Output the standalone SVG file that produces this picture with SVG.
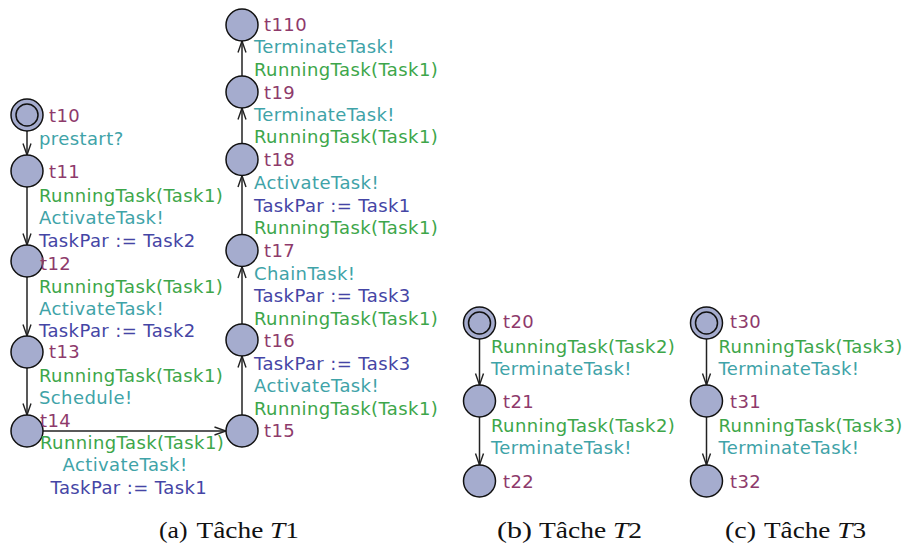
<svg xmlns="http://www.w3.org/2000/svg" width="903" height="545" viewBox="0 0 903 545">
<defs>
<marker id="arr" markerUnits="userSpaceOnUse" markerWidth="14" markerHeight="12" viewBox="0 0 14 12" refX="12" refY="6" orient="auto">
<path d="M0.5,2 L12,6 L0.5,10" fill="none" stroke="#222" stroke-width="1.4"/>
</marker>
<style>
.loc{fill:#a5acce;stroke:#111;stroke-width:1.5}
.e{stroke:#222;stroke-width:1.5;fill:none;marker-end:url(#arr)}
text{font-family:"DejaVu Sans",sans-serif;font-size:18px;letter-spacing:0.4px}
.nm{fill:#8e3a6b}
.g{fill:#3da64a}
.s{fill:#3fa3a8}
.a{fill:#4545a5}
.cap{font-family:"Liberation Serif",serif;font-size:22.5px;fill:#111;letter-spacing:0}
</style>
</defs>
<rect width="903" height="545" fill="#fff"/>
<g id="connectors">
<line class="e" x1="27" y1="131" x2="27" y2="155"/>
<line class="e" x1="27" y1="187" x2="27" y2="245"/>
<line class="e" x1="27" y1="277" x2="27" y2="336"/>
<line class="e" x1="27" y1="368" x2="27" y2="415"/>
<line class="e" x1="43" y1="431" x2="226" y2="431"/>
<line class="e" x1="242" y1="415" x2="242" y2="356"/>
<line class="e" x1="242" y1="324" x2="242" y2="266.5"/>
<line class="e" x1="242" y1="234.5" x2="242" y2="175.5"/>
<line class="e" x1="242" y1="143.5" x2="242" y2="108"/>
<line class="e" x1="242" y1="76" x2="242" y2="41"/>
<line class="e" x1="479.5" y1="339" x2="479.5" y2="385"/>
<line class="e" x1="479.5" y1="417" x2="479.5" y2="465"/>
<line class="e" x1="706.5" y1="339" x2="706.5" y2="385"/>
<line class="e" x1="706.5" y1="417" x2="706.5" y2="465"/>
</g>
<g id="t10"><circle class="loc" cx="27" cy="115" r="16"/><circle class="loc" cx="27" cy="115" r="11"/><text class="nm" x="49" y="122">t10</text></g>
<g id="t11"><circle class="loc" cx="27" cy="171" r="16"/><text class="nm" x="49" y="178">t11</text></g>
<g id="t12"><circle class="loc" cx="27" cy="261" r="16"/><text class="nm" x="40" y="270">t12</text></g>
<g id="t13"><circle class="loc" cx="27" cy="352" r="16"/><text class="nm" x="49" y="358">t13</text></g>
<g id="t14"><circle class="loc" cx="27" cy="431" r="16"/><text class="nm" x="40" y="427">t14</text></g>
<g id="t15"><circle class="loc" cx="242" cy="431" r="16"/><text class="nm" x="264" y="437">t15</text></g>
<g id="t16"><circle class="loc" cx="242" cy="340" r="16"/><text class="nm" x="264" y="347">t16</text></g>
<g id="t17"><circle class="loc" cx="242" cy="250.5" r="16"/><text class="nm" x="264" y="257">t17</text></g>
<g id="t18"><circle class="loc" cx="242" cy="159.5" r="16"/><text class="nm" x="264" y="166">t18</text></g>
<g id="t19"><circle class="loc" cx="242" cy="92" r="16"/><text class="nm" x="264" y="98.5">t19</text></g>
<g id="t110"><circle class="loc" cx="242" cy="25" r="16"/><text class="nm" x="264" y="31">t110</text></g>
<g id="t20"><circle class="loc" cx="479.5" cy="323" r="16"/><circle class="loc" cx="479.5" cy="323" r="11"/><text class="nm" x="503" y="328">t20</text></g>
<g id="t21"><circle class="loc" cx="479.5" cy="401" r="16"/><text class="nm" x="503" y="408">t21</text></g>
<g id="t22"><circle class="loc" cx="479.5" cy="481" r="16"/><text class="nm" x="503" y="488">t22</text></g>
<g id="t30"><circle class="loc" cx="706.5" cy="323" r="16"/><circle class="loc" cx="706.5" cy="323" r="11"/><text class="nm" x="730" y="328">t30</text></g>
<g id="t31"><circle class="loc" cx="706.5" cy="401" r="16"/><text class="nm" x="730" y="408">t31</text></g>
<g id="t32"><circle class="loc" cx="706.5" cy="481" r="16"/><text class="nm" x="730" y="488">t32</text></g>
<g id="labels">
<text class="s" x="39" y="145">prestart?</text>
<text class="g" x="39" y="201.5">RunningTask(Task1)</text>
<text class="s" x="39" y="223.5">ActivateTask!</text>
<text class="a" x="39" y="246.5">TaskPar := Task2</text>
<text class="g" x="39" y="292.5">RunningTask(Task1)</text>
<text class="s" x="39" y="315">ActivateTask!</text>
<text class="a" x="39" y="336.5">TaskPar := Task2</text>
<text class="g" x="39" y="381.5">RunningTask(Task1)</text>
<text class="s" x="39" y="404">Schedule!</text>
<text class="g" x="40" y="448.5">RunningTask(Task1)</text>
<text class="s" x="62.5" y="471">ActivateTask!</text>
<text class="a" x="50.5" y="493.5">TaskPar := Task1</text>
<text class="g" x="254" y="414.5">RunningTask(Task1)</text>
<text class="s" x="254" y="392">ActivateTask!</text>
<text class="a" x="254" y="369.5">TaskPar := Task3</text>
<text class="g" x="254" y="324.5">RunningTask(Task1)</text>
<text class="a" x="254" y="302">TaskPar := Task3</text>
<text class="s" x="254" y="279.5">ChainTask!</text>
<text class="g" x="254" y="233.5">RunningTask(Task1)</text>
<text class="a" x="254" y="211.5">TaskPar := Task1</text>
<text class="s" x="254" y="188.5">ActivateTask!</text>
<text class="g" x="254" y="143">RunningTask(Task1)</text>
<text class="s" x="254" y="120.5">TerminateTask!</text>
<text class="g" x="254" y="75.5">RunningTask(Task1)</text>
<text class="s" x="254" y="53">TerminateTask!</text>
<text class="g" x="491" y="353">RunningTask(Task2)</text>
<text class="s" x="491" y="375">TerminateTask!</text>
<text class="g" x="491" y="431.5">RunningTask(Task2)</text>
<text class="s" x="491" y="453.5">TerminateTask!</text>
<text class="g" x="718.5" y="353">RunningTask(Task3)</text>
<text class="s" x="718.5" y="375">TerminateTask!</text>
<text class="g" x="718.5" y="431.5">RunningTask(Task3)</text>
<text class="s" x="718.5" y="453.5">TerminateTask!</text>
</g>
<g id="captions">
<text class="cap" x="159" y="538" textLength="28.5" lengthAdjust="spacingAndGlyphs">(a)</text>
<text class="cap" x="196.5" y="538" textLength="102.5" lengthAdjust="spacingAndGlyphs">Tâche <tspan font-style="italic">T</tspan>1</text>
<text class="cap" x="497" y="538" textLength="35" lengthAdjust="spacingAndGlyphs">(b)</text>
<text class="cap" x="539" y="538" textLength="103" lengthAdjust="spacingAndGlyphs">Tâche <tspan font-style="italic">T</tspan>2</text>
<text class="cap" x="725" y="538" textLength="31" lengthAdjust="spacingAndGlyphs">(c)</text>
<text class="cap" x="764" y="538" textLength="102" lengthAdjust="spacingAndGlyphs">Tâche <tspan font-style="italic">T</tspan>3</text>
</g>
</svg>
